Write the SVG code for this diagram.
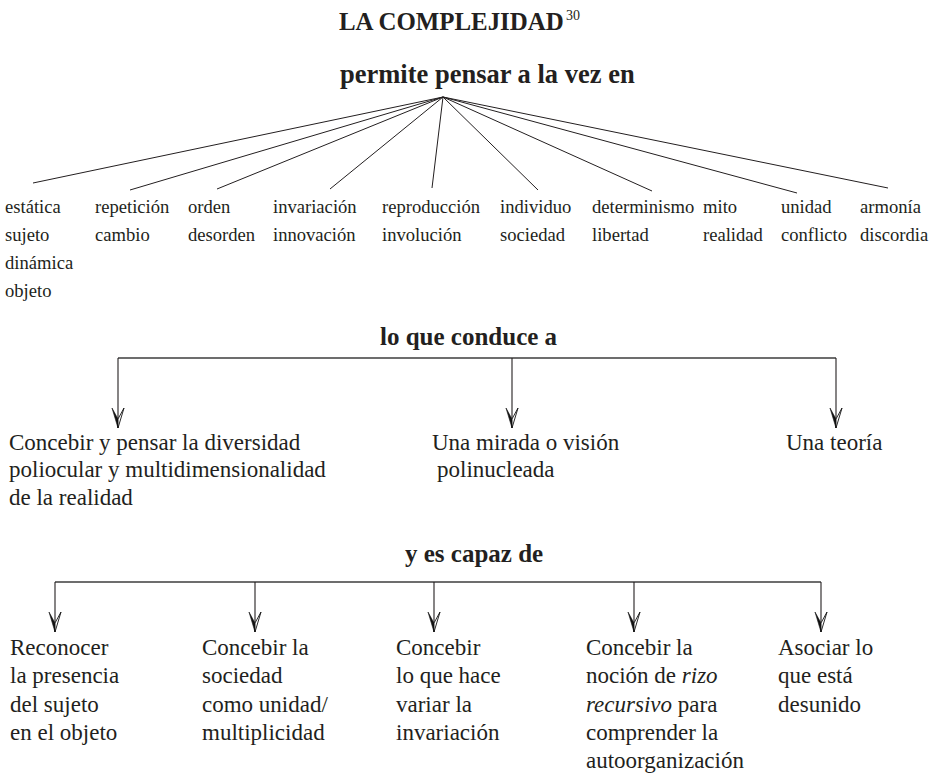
<svg xmlns="http://www.w3.org/2000/svg" width="936" height="774" viewBox="0 0 936 774">
<defs>
<style>
text{font-family:"Liberation Serif","Times New Roman",serif;fill:#231f20}
.h{font-weight:bold}
.t{font-size:18.6px}
.m{font-size:23px}
.fan line{stroke:#231f20;stroke-width:1}
.bar{stroke:#6d6d6d;stroke-width:2;fill:none}
.drop{stroke:#231f20;stroke-width:1.1;fill:none;marker-end:url(#ah)}
</style>
<marker id="ah" markerUnits="userSpaceOnUse" viewBox="-22 -8 24 16" markerWidth="24" markerHeight="16" refX="0" refY="0" orient="auto">
<path d="M0,0 L-20,6 L-9,0 Z" fill="#111" stroke="#111" stroke-width="0.6"/>
<path d="M0,0 L-20,-6 L-9,0 Z" fill="#fff" stroke="#111" stroke-width="0.9"/>
</marker>
</defs>
<rect width="936" height="774" fill="#fff"/>
<g id="title">
<text class="h" x="339" y="30" font-size="24.9">LA COMPLEJIDAD</text>
<text x="566" y="20" font-size="14">30</text>
</g>
<g id="permite">
<text class="h" x="340" y="83" font-size="26.5">permite pensar a la vez en</text>
</g>
<g id="connectors">
<g class="fan">
<line x1="443" y1="97" x2="33" y2="183"/>
<line x1="443" y1="97" x2="130" y2="190"/>
<line x1="443" y1="97" x2="217" y2="189"/>
<line x1="443" y1="97" x2="330" y2="189"/>
<line x1="443" y1="97" x2="432" y2="188"/>
<line x1="443" y1="97" x2="538" y2="190"/>
<line x1="443" y1="97" x2="652" y2="191"/>
<line x1="443" y1="97" x2="797" y2="193"/>
<line x1="443" y1="97" x2="888" y2="188"/>
</g>
<path class="bar" d="M118,358 H836"/>
<path class="drop" d="M118,358 V428"/>
<path class="drop" d="M512,358 V428"/>
<path class="drop" d="M836,358 V428"/>
<path class="bar" d="M55,582 H821"/>
<path class="drop" d="M55,582 V632"/>
<path class="drop" d="M255,582 V632"/>
<path class="drop" d="M434,582 V632"/>
<path class="drop" d="M634,582 V632"/>
<path class="drop" d="M821,582 V632"/>
</g>
<g id="pairs">
<g id="p1"><text class="t" x="5" y="213">estática</text><text class="t" x="5" y="241">sujeto</text><text class="t" x="5" y="269">dinámica</text><text class="t" x="5" y="297">objeto</text></g>
<g id="p2"><text class="t" x="95" y="213">repetición</text><text class="t" x="95" y="241">cambio</text></g>
<g id="p3"><text class="t" x="188" y="213">orden</text><text class="t" x="188" y="241">desorden</text></g>
<g id="p4"><text class="t" x="273" y="213">invariación</text><text class="t" x="273" y="241">innovación</text></g>
<g id="p5"><text class="t" x="382" y="213">reproducción</text><text class="t" x="382" y="241">involución</text></g>
<g id="p6"><text class="t" x="500" y="213">individuo</text><text class="t" x="500" y="241">sociedad</text></g>
<g id="p7"><text class="t" x="592" y="213">determinismo</text><text class="t" x="592" y="241">libertad</text></g>
<g id="p8"><text class="t" x="703" y="213">mito</text><text class="t" x="703" y="241">realidad</text></g>
<g id="p9"><text class="t" x="781" y="213">unidad</text><text class="t" x="781" y="241">conflicto</text></g>
<g id="p10"><text class="t" x="860" y="213">armonía</text><text class="t" x="860" y="241">discordia</text></g>
</g>
<g id="conduce">
<text class="h" x="380" y="345" font-size="25">lo que conduce a</text>
</g>
<g id="c1"><text class="m" x="9" y="450">Concebir y pensar la diversidad</text><text class="m" x="9" y="477">poliocular y multidimensionalidad</text><text class="m" x="9" y="505">de la realidad</text></g>
<g id="c2"><text class="m" x="432" y="450">Una mirada o visión</text><text class="m" x="437" y="477">polinucleada</text></g>
<g id="c3"><text class="m" x="786" y="450">Una teoría</text></g>
<g id="capaz">
<text class="h" x="405" y="562" font-size="25">y es capaz de</text>
</g>
<g id="b1"><text class="m" x="10" y="655">Reconocer</text><text class="m" x="10" y="683">la presencia</text><text class="m" x="10" y="712">del sujeto</text><text class="m" x="10" y="740">en el objeto</text></g>
<g id="b2"><text class="m" x="202" y="655">Concebir la</text><text class="m" x="202" y="683">sociedad</text><text class="m" x="202" y="712">como unidad/</text><text class="m" x="202" y="740">multiplicidad</text></g>
<g id="b3"><text class="m" x="396" y="655">Concebir</text><text class="m" x="396" y="683">lo que hace</text><text class="m" x="396" y="712">variar la</text><text class="m" x="396" y="740">invariación</text></g>
<g id="b4"><text class="m" x="586" y="655">Concebir la</text><text class="m" x="586" y="683">noción de <tspan font-style="italic">rizo</tspan></text><text class="m" x="586" y="712"><tspan font-style="italic">recursivo</tspan> para</text><text class="m" x="586" y="740">comprender la</text><text class="m" x="586" y="768">autoorganización</text></g>
<g id="b5"><text class="m" x="778" y="655">Asociar lo</text><text class="m" x="778" y="683">que está</text><text class="m" x="778" y="712">desunido</text></g>
</svg>
